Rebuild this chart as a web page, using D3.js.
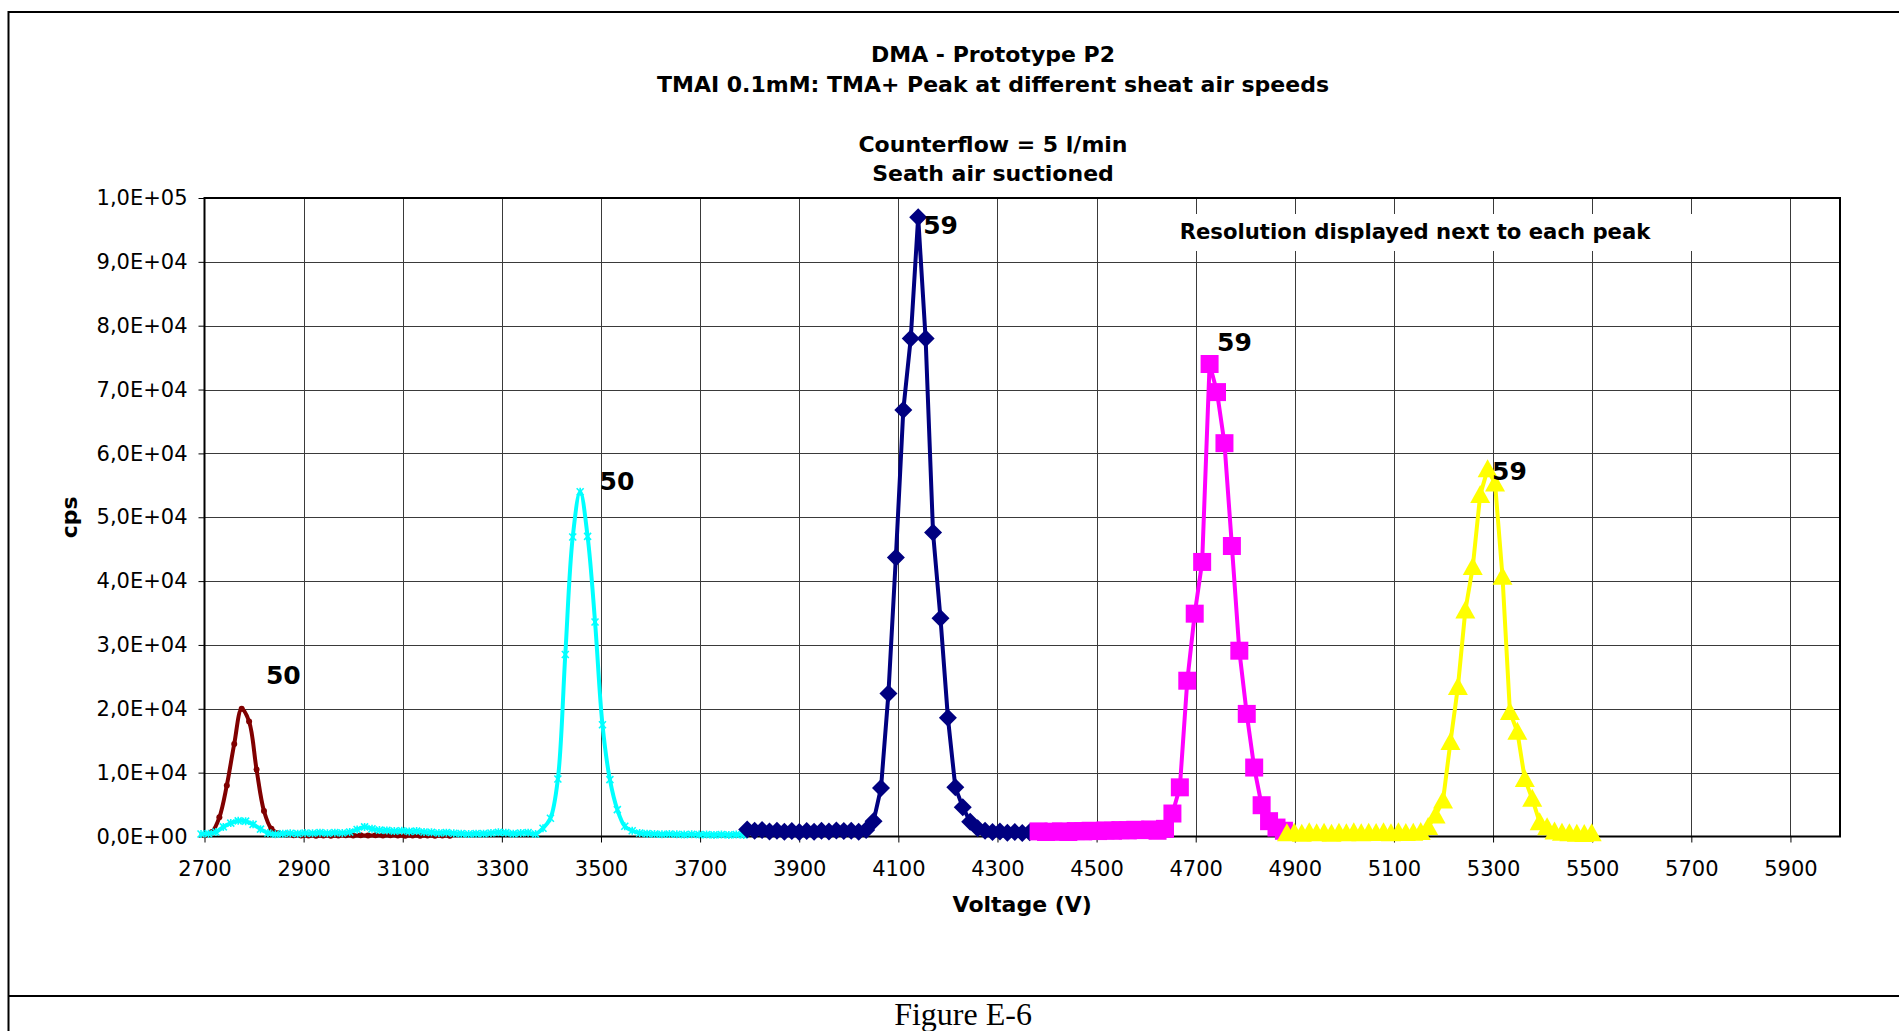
<!DOCTYPE html>
<html>
<head>
<meta charset="utf-8">
<script src="https://cdn.jsdelivr.net/npm/d3@7"></script>
<style>
  html, body { margin: 0; padding: 0; background: #fff; }
  svg { display: block; }
</style>
</head>
<body>
<svg id="chart" width="1899" height="1031"></svg>
<script>
// ---------------- DATA ----------------
const titleLines = ["DMA - Prototype P2", "TMAI 0.1mM: TMA+ Peak at different sheat air speeds", "Counterflow = 5 l/min", "Seath air suctioned"];
const xAxisTitle = "Voltage (V)";
const yAxisTitle = "cps";
const noteText = "Resolution displayed next to each peak";
const captionText = "Figure E-6";

const xTickValues = [2700, 2900, 3100, 3300, 3500, 3700, 3900, 4100, 4300, 4500, 4700, 4900, 5100, 5300, 5500, 5700, 5900];
const xTickLabels = ["2700", "2900", "3100", "3300", "3500", "3700", "3900", "4100", "4300", "4500", "4700", "4900", "5100", "5300", "5500", "5700", "5900"];
const yTickValues = [0, 10000, 20000, 30000, 40000, 50000, 60000, 70000, 80000, 90000, 100000];
const yTickLabels = ["0,0E+00", "1,0E+04", "2,0E+04", "3,0E+04", "4,0E+04", "5,0E+04", "6,0E+04", "7,0E+04", "8,0E+04", "9,0E+04", "1,0E+05"];

// series 1 (dark red)
const redVoltage = [2700, 2715, 2730, 2745, 2760, 2775, 2790, 2805, 2820, 2835, 2850, 2865, 2880, 2895, 2910, 2925, 2940, 2955, 2970, 2985, 3000, 3015, 3030, 3045, 3060, 3075, 3090, 3105, 3120, 3135, 3150, 3165, 3180, 3195];
const redCps = [200, 700, 3000, 8000, 14500, 20000, 18000, 10500, 4000, 1200, 500, 300, 200, 150, 150, 100, 150, 100, 150, 200, 150, 200, 150, 200, 150, 200, 150, 100, 150, 100, 150, 100, 150, 100];

// series 2 (cyan)
const cyanVoltage = [2693, 2708, 2723, 2738, 2753, 2768, 2783, 2798, 2813, 2828, 2843, 2858, 2873, 2888, 2903, 2918, 2933, 2948, 2963, 2978, 2993, 3008, 3023, 3038, 3053, 3068, 3083, 3098, 3113, 3128, 3143, 3158, 3173, 3188, 3203, 3218, 3233, 3248, 3263, 3278, 3293, 3308, 3323, 3338, 3353, 3368, 3383, 3398, 3413, 3428, 3443, 3458, 3473, 3488, 3503, 3518, 3533, 3548, 3563, 3578, 3593, 3608, 3623, 3638, 3653, 3668, 3683, 3698, 3713, 3728, 3743, 3758, 3773, 3788];
const cyanCps = [400, 450, 700, 1500, 2100, 2450, 2400, 1900, 1150, 550, 350, 450, 500, 450, 550, 500, 600, 500, 600, 550, 700, 1100, 1500, 1200, 1000, 950, 850, 900, 800, 850, 700, 650, 550, 600, 500, 450, 400, 450, 450, 550, 650, 600, 450, 550, 600, 400, 1300, 2850, 9000, 28500, 46900, 54000, 47000, 33600, 17500, 8900, 4200, 1600, 900, 550, 450, 400, 350, 400, 350, 300, 350, 300, 300, 250, 300, 250, 300, 250];

// series 3 (navy, diamonds)
const navyVoltage = [3795, 3810, 3825, 3840, 3855, 3870, 3885, 3900, 3915, 3930, 3945, 3960, 3975, 3990, 4005, 4020, 4035, 4050, 4065, 4080, 4095, 4110, 4125, 4140, 4155, 4170, 4185, 4200, 4215, 4230, 4245, 4260, 4275, 4290, 4305, 4320, 4335, 4350, 4365];
const navyCps = [1100, 900, 1000, 800, 900, 750, 850, 700, 850, 750, 900, 800, 950, 850, 900, 750, 1000, 2400, 7600, 22400, 43700, 66800, 78000, 97000, 78000, 47600, 34200, 18600, 7700, 4600, 2300, 1300, 900, 700, 800, 600, 700, 550, 650];

// series 4 (magenta, squares)
const magentaVoltage = [4383, 4398, 4413, 4428, 4443, 4458, 4473, 4488, 4503, 4518, 4533, 4548, 4563, 4578, 4593, 4608, 4623, 4638, 4653, 4668, 4683, 4698, 4713, 4728, 4743, 4758, 4773, 4788, 4803, 4818, 4833, 4848, 4863, 4878];
const magentaCps = [800, 700, 750, 800, 700, 850, 800, 900, 850, 950, 900, 1000, 950, 1050, 1000, 1100, 900, 1200, 3600, 7700, 24400, 34900, 43000, 74000, 69600, 61600, 45500, 29100, 19200, 10800, 4900, 2400, 1400, 900];

// series 5 (yellow, triangles)
const yellowVoltage = [4884, 4899, 4914, 4929, 4944, 4959, 4974, 4989, 5004, 5019, 5034, 5049, 5064, 5079, 5094, 5109, 5124, 5139, 5154, 5169, 5184, 5199, 5214, 5229, 5244, 5259, 5274, 5289, 5304, 5319, 5334, 5349, 5364, 5379, 5394, 5409, 5424, 5439, 5454, 5469, 5484, 5499];
const yellowCps = [500, 600, 450, 650, 500, 600, 450, 600, 500, 650, 500, 600, 550, 650, 500, 650, 550, 600, 700, 1500, 3300, 5650, 14800, 23400, 35400, 42200, 53500, 57500, 55300, 40700, 19500, 16400, 9000, 5900, 2250, 1460, 800, 600, 500, 450, 400, 500];

// resolution labels (text) and their anchor in data units
const resolutionLabels = ["50", "50", "59", "59", "59"];
const resolutionLabelVoltage = [2824, 3497, 4150, 4743, 5298];
const resolutionLabelCps = [25300, 55700, 95800, 77500, 57200];

// ---------------- LAYOUT ----------------
const W = 1899, H = 1031;
const plot = { left: 204.5, right: 1840, top: 198, bottom: 836.5 };
const FONT = "'DejaVu Sans', Verdana, sans-serif";

const svg = d3.select("#chart");
svg.append("rect").attr("width", W).attr("height", H).attr("fill", "#fff");

const x = d3.scaleLinear().domain([2700, 6000]).range([plot.left, plot.right]);
const y = d3.scaleLinear().domain([0, 100000]).range([plot.bottom, plot.top]);

// outer frame
const frame = svg.append("g").attr("stroke", "#000").attr("stroke-width", 2);
frame.append("line").attr("x1", 8.5).attr("x2", W).attr("y1", 12).attr("y2", 12);
frame.append("line").attr("x1", 8.5).attr("x2", 8.5).attr("y1", 11).attr("y2", H);
frame.append("line").attr("x1", 8.5).attr("x2", W).attr("y1", 996).attr("y2", 996);

// titles
const titleBaselines = [62, 92, 151.5, 180.5];
svg.append("g").selectAll("text").data(titleLines).join("text")
  .attr("x", 993).attr("y", (d, i) => titleBaselines[i])
  .attr("text-anchor", "middle")
  .attr("font-family", FONT).attr("font-weight", "bold").attr("font-size", 22)
  .attr("fill", "#000").text(d => d);

// gridlines
const grid = svg.append("g").attr("stroke", "#3a3a3a").attr("stroke-width", 1);
grid.selectAll("line.h").data(yTickValues.filter(v => v > 0 && v < 100000)).join("line")
  .attr("class", "h")
  .attr("x1", plot.left).attr("x2", plot.right)
  .attr("y1", d => Math.round(y(d)) + 0.5).attr("y2", d => Math.round(y(d)) + 0.5);
grid.selectAll("line.v").data(xTickValues.filter(v => v > 2700)).join("line")
  .attr("class", "v")
  .attr("y1", plot.top).attr("y2", plot.bottom)
  .attr("x1", d => Math.round(x(d)) + 0.5).attr("x2", d => Math.round(x(d)) + 0.5);

// note text box (white background hides gridlines)
const noteG = svg.append("g");
noteG.append("rect").attr("x", 1168).attr("y", 214).attr("width", 530).attr("height", 37).attr("fill", "#fff");
noteG.append("text").attr("x", 1415).attr("y", 238.6).attr("text-anchor", "middle")
  .attr("font-family", FONT).attr("font-weight", "bold").attr("font-size", 21.2).attr("fill", "#000")
  .text(noteText);

// plot border
svg.append("rect").attr("x", plot.left).attr("y", plot.top)
  .attr("width", plot.right - plot.left).attr("height", plot.bottom - plot.top)
  .attr("fill", "none").attr("stroke", "#000").attr("stroke-width", 2);

// axes
const yAxis = d3.axisLeft(y).tickValues(yTickValues).tickFormat((d, i) => yTickLabels[i]).tickSize(6).tickPadding(11);
const gy = svg.append("g").attr("transform", `translate(${plot.left},0)`).call(yAxis);
gy.select(".domain").remove();
gy.selectAll("line").attr("stroke", "#000").attr("stroke-width", 1);
gy.selectAll("text").attr("font-family", FONT).attr("font-size", 21).attr("fill", "#000");

const xAxis = d3.axisBottom(x).tickValues(xTickValues).tickFormat((d, i) => xTickLabels[i]).tickSize(6).tickPadding(33);
const gx = svg.append("g").attr("transform", `translate(0,${plot.bottom})`).call(xAxis);
gx.select(".domain").remove();
gx.selectAll("line").attr("stroke", "#000").attr("stroke-width", 1);
gx.selectAll("text").attr("font-family", FONT).attr("font-size", 21).attr("fill", "#000").attr("dy", "0");

// axis titles
svg.append("text").attr("x", (plot.left + plot.right) / 2).attr("y", 912).attr("text-anchor", "middle")
  .attr("font-family", FONT).attr("font-weight", "bold").attr("font-size", 22).attr("fill", "#000").text(xAxisTitle);
svg.append("text").attr("transform", `translate(77,${(plot.top + plot.bottom) / 2}) rotate(-90)`).attr("text-anchor", "middle")
  .attr("font-family", FONT).attr("font-weight", "bold").attr("font-size", 22).attr("fill", "#000").text(yAxisTitle);

// series
const series = [
  { v: redVoltage, c: redCps, color: "#800000", marker: "dot", smooth: true },
  { v: cyanVoltage, c: cyanCps, color: "#00FFFF", marker: "star", smooth: true },
  { v: navyVoltage, c: navyCps, color: "#000080", marker: "diamond", smooth: false },
  { v: magentaVoltage, c: magentaCps, color: "#FF00FF", marker: "square", smooth: false },
  { v: yellowVoltage, c: yellowCps, color: "#FFFF00", marker: "triangle", smooth: false }
];

const markerPath = {
  dot: "M-3,0A3,3 0 1,0 3,0A3,3 0 1,0 -3,0Z",
  star: "M-3.5,-3.5L3.5,3.5M-3.5,3.5L3.5,-3.5M0,-4L0,4",
  diamond: "M0,-9L9,0L0,9L-9,0Z",
  square: "M-9,-9H9V9H-9Z",
  triangle: "M0,-10L10,8L-10,8Z"
};

const sg = svg.append("g");
series.forEach(s => {
  const pts = s.v.map((v, i) => [v, s.c[i]]);
  const line = d3.line().x(d => x(d[0])).y(d => y(d[1]))
    .curve(s.smooth ? d3.curveCatmullRom.alpha(0.5) : d3.curveLinear);
  const g = sg.append("g");
  g.append("path").datum(pts).attr("d", line).attr("fill", "none")
    .attr("stroke", s.color).attr("stroke-width", 4).attr("stroke-linejoin", "round").attr("stroke-linecap", "round");
  const m = g.selectAll("path.m").data(pts).join("path").attr("class", "m")
    .attr("transform", d => `translate(${x(d[0])},${y(d[1])})`)
    .attr("d", markerPath[s.marker]);
  if (s.marker === "star") {
    m.attr("fill", "none").attr("stroke", s.color).attr("stroke-width", 1.6);
  } else {
    m.attr("fill", s.color).attr("stroke", "none");
  }
});

// resolution labels
svg.append("g").selectAll("text").data(resolutionLabels).join("text")
  .attr("x", (d, i) => x(resolutionLabelVoltage[i]))
  .attr("y", (d, i) => y(resolutionLabelCps[i]))
  .attr("dy", "0.36em")
  .attr("font-family", FONT).attr("font-weight", "bold").attr("font-size", 25).attr("fill", "#000")
  .text(d => d);

// caption
svg.append("text").attr("x", 963).attr("y", 1025).attr("text-anchor", "middle")
  .attr("font-family", "'Liberation Serif', 'Times New Roman', serif").attr("font-size", 32).attr("fill", "#000")
  .text(captionText);
</script>
</body>
</html>
